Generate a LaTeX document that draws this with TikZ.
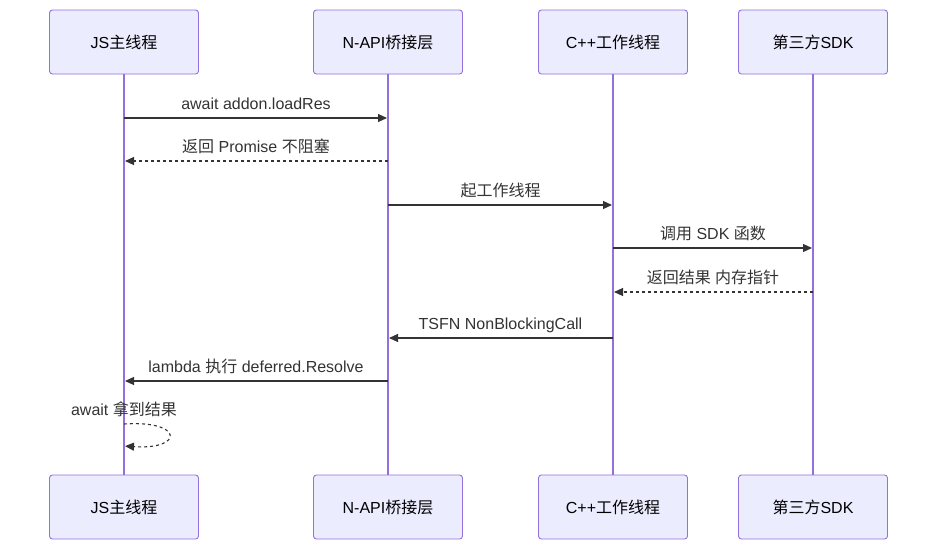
\documentclass[tikz,border=0pt]{standalone}
\usepackage{fontspec}
\setmainfont{Liberation Sans}
\newfontfamily\cjk{Noto Sans CJK SC}
\usepackage{xcolor}
\usetikzlibrary{arrows.meta,positioning,calc}
\definecolor{actorfill}{HTML}{ECECFF}
\definecolor{actorline}{HTML}{9370DB}
\definecolor{msgcol}{HTML}{333333}
\tikzset{
	actor/.style={draw=actorline, fill=actorfill, rounded corners=3pt, line width=0.9pt,
		minimum width=149pt, minimum height=64pt, align=center, inner sep=0pt,
		font=\fontsize{16}{19}\selectfont, text=black},
	lifeline/.style={actorline, line width=1.6pt},
	msg/.style={-{Triangle[length=9pt,width=8pt]}, msgcol, line width=1.1pt, shorten >=1pt},
	reply/.style={msg, dash pattern=on 3pt off 3pt},
	msglabel/.style={font=\fontsize{16}{19}\selectfont, text=msgcol, inner sep=0pt,
		text height=12pt, text depth=4pt, above=4pt}
}

\begin{document}
\begin{tikzpicture}[x=1pt, y=-1pt]
	\useasboundingbox (0,0) rectangle (945,555);

	%% -- Participants (top and bottom)
	\foreach \nm/\xx/\lbl in {js/124/{JS{\cjk 主线程}}, api/388/{N-API{\cjk 桥接层}},
		cpp/613/{C++{\cjk 工作线程}}, sdk/813/{{\cjk 第三方}SDK}} {
		\node[actor] (\nm-top) at (\xx,42) {\lbl};
		\node[actor] (\nm-bot) at (\xx,507) {\lbl};
	}
	\foreach \nm in {js,api,cpp,sdk}
		\draw[lifeline] (\nm-top) -- (\nm-bot);

	%% -- Message rows
	\coordinate (m1) at (0,118);
	\coordinate (m2) at (0,161);
	\coordinate (m3) at (0,205);
	\coordinate (m4) at (0,248);
	\coordinate (m5) at (0,292);
	\coordinate (m6) at (0,338);
	\coordinate (m7) at (0,381);
	\coordinate (m8a) at (0,424);
	\coordinate (m8b) at (0,446);

	\draw[msg] (js-top |- m1) -- node[msglabel] {await addon.loadRes} (api-top |- m1);
	\draw[reply] (api-top |- m2) -- node[msglabel] {{\cjk 返回} Promise {\cjk 不阻塞}} (js-top |- m2);
	\draw[msg] (api-top |- m3) -- node[msglabel] {\cjk 起工作线程} (cpp-top |- m3);
	\draw[msg] (cpp-top |- m4) -- node[msglabel] {{\cjk 调用} SDK {\cjk 函数}} (sdk-top |- m4);
	\draw[reply] (sdk-top |- m5) -- node[msglabel] {{\cjk 返回结果} {\cjk 内存指针}} (cpp-top |- m5);
	\draw[msg] (cpp-top |- m6) -- node[msglabel] {TSFN NonBlockingCall} (api-top |- m6);
	\draw[msg] (api-top |- m7) -- node[msglabel] {lambda {\cjk 执行} deferred.Resolve} (js-top |- m7);

	%% -- Self call on the JS thread
	\draw[reply] (js-top |- m8a) node[msglabel] {await {\cjk 拿到结果}}
		.. controls +(60,-4) and +(60,4) .. (js-top |- m8b);

\end{tikzpicture}
\end{document}
